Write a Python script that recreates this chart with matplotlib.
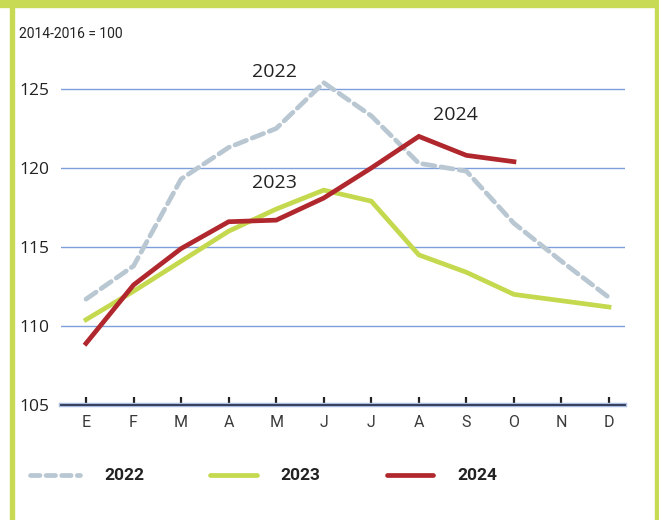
import matplotlib
matplotlib.use("Agg")
import matplotlib.pyplot as plt
from matplotlib.lines import Line2D
from matplotlib.patches import Rectangle

months = ["E", "F", "M", "A", "M", "J", "J", "A", "S", "O", "N", "D"]
v2022 = [111.7, 113.8, 119.3, 121.3, 122.5, 125.4, 123.3, 120.3, 119.8, 116.5, 114.1, 111.8]
v2023 = [110.4, 112.2, 114.1, 116.0, 117.4, 118.6, 117.9, 114.5, 113.4, 112.0, 111.6, 111.2]
v2024 = [108.9, 112.6, 114.9, 116.6, 116.7, 118.1, 120.0, 122.0, 120.8, 120.4]
yticks = [105, 110, 115, 120, 125]

c22 = "#b8c7d1"
c23 = "#c5d94e"
c24 = "#b0282d"
frame = "#c8da54"
grid = "#7d9fdb"
dark = "#222222"
narrow = ["Roboto", "DejaVu Sans"]

W, H = 659, 520
fig = plt.figure(figsize=(W / 100, H / 100), dpi=100)

# green frame
fig.patches.append(Rectangle((0, 1 - 7 / H), 1, 7 / H, transform=fig.transFigure, color=frame, zorder=0))
fig.patches.append(Rectangle((10 / W, 0), 4 / W, 1, transform=fig.transFigure, color=frame, zorder=0))
fig.patches.append(Rectangle((655 / W, 0), 4 / W, 1, transform=fig.transFigure, color=frame, zorder=0))

# axes: x 61..625 px, y 105 at 405 px, 128 at ~41.6 px
ax = fig.add_axes([61 / W, (H - 405) / H, (625 - 61) / W, (405 - 41.6) / H])
x = list(range(len(months)))
ax.set_xlim(-0.526, 11.336)
ax.set_ylim(105, 128)

for v in yticks[1:]:
    ax.axhline(v, color=grid, lw=1.0, zorder=1)

ax.plot(x, v2022, color=c22, lw=3.4, dashes=(2.6, 1.3), dash_capstyle="round", zorder=3)
ax.plot(x, v2023, color=c23, lw=3.4, solid_joinstyle="miter", zorder=4)
ax.plot(x[:len(v2024)], v2024, color=c24, lw=3.4, solid_joinstyle="miter", zorder=5)

ax.text(3.97, 126.1, "2022", fontsize=14, color=dark, ha="center", va="center", family="Open Sans")
ax.text(3.97, 119.05, "2023", fontsize=14, color=dark, ha="center", va="center", family="Open Sans")
ax.text(7.76, 123.35, "2024", fontsize=14, color=dark, ha="center", va="center", family="Open Sans")

for s in ["top", "right", "left"]:
    ax.spines[s].set_visible(False)
ax.spines["bottom"].set_color("#a9bde0")
ax.spines["bottom"].set_linewidth(3.2)
ax.axhline(105, color="#2c3550", lw=1.3, zorder=6, clip_on=False)

ax.set_xticks(x)
ax.set_xticklabels(months, family=narrow, fontsize=11.5, color="#3a3a3a")
ax.tick_params(axis="x", direction="in", length=6, width=1.6, color=dark, pad=7)
ax.set_yticks(yticks)
ax.set_yticklabels([str(v) for v in yticks], family="Open Sans", fontsize=12.5, color=dark)
ax.tick_params(axis="y", length=0, pad=8)

fig.text(19 / W, 1 - 34 / H, "2014-2016 = 100", family=narrow, fontsize=10, color=dark, va="center")

# legend
ly = 1 - 475 / H
for (x0, x1, tx, col, lab, dash) in [(30, 80, 104, c22, "2022", True),
                                      (210, 257, 280, c23, "2023", False),
                                      (387, 433, 457, c24, "2024", False)]:
    ln = Line2D([x0 / W, x1 / W], [ly, ly], transform=fig.transFigure, color=col, lw=3.4,
                solid_capstyle="round", dash_capstyle="round")
    if dash:
        ln.set_dashes((2.0, 1.3))
    fig.add_artist(ln)
    fig.text(tx / W, ly, lab, family=narrow, fontweight="bold", fontsize=12.5, color=dark, va="center")

fig.savefig("out.png", dpi=100, facecolor="white")
